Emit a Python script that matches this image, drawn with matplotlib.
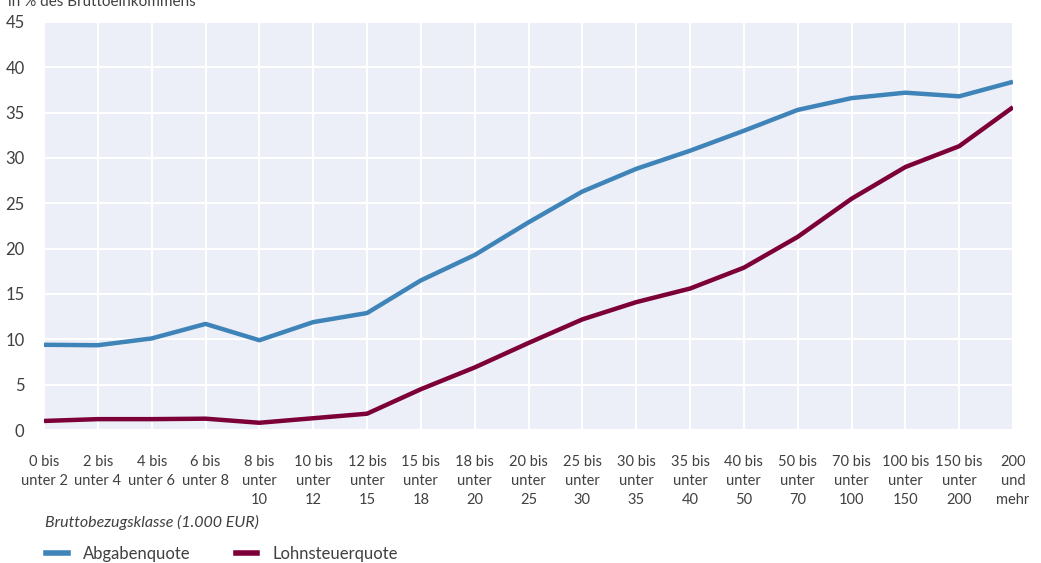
import matplotlib.pyplot as plt
from matplotlib.lines import Line2D

plt.rcParams['font.family'] = ['Lato', 'DejaVu Sans']

# Bruttobezugsklassen (1.000 EUR)
categories = ['0 bis\nunter 2', '2 bis\nunter 4', '4 bis\nunter 6', '6 bis\nunter 8',
              '8 bis\nunter\n10', '10 bis\nunter\n12', '12 bis\nunter\n15', '15 bis\nunter\n18',
              '18 bis\nunter\n20', '20 bis\nunter\n25', '25 bis\nunter\n30', '30 bis\nunter\n35',
              '35 bis\nunter\n40', '40 bis\nunter\n50', '50 bis\nunter\n70', '70 bis\nunter\n100',
              '100 bis\nunter\n150', '150 bis\nunter\n200', '200\nund\nmehr']

abgabenquote = [9.4, 9.35, 10.1, 11.7, 9.9, 11.9, 12.9, 16.5, 19.3, 22.9,
                26.3, 28.8, 30.8, 33.0, 35.3, 36.6, 37.2, 36.8, 38.4]
lohnsteuerquote = [1.0, 1.2, 1.2, 1.25, 0.8, 1.3, 1.8, 4.5, 6.9, 9.6,
                   12.2, 14.1, 15.6, 17.9, 21.3, 25.5, 29.0, 31.3, 35.6]

blue = '#3f84b9'
red = '#7c0037'
text_col = '#404040'

fig = plt.figure(figsize=(10.41, 5.63), dpi=100)
ax = fig.add_axes([0.0423, 0.2362, 0.9308, 0.7248])
ax.set_facecolor('#eceff7')

x = list(range(len(categories)))
ax.plot(x, abgabenquote, color=blue, lw=3.2, solid_capstyle='butt')
ax.plot(x, lohnsteuerquote, color=red, lw=3.2, solid_capstyle='butt')

ax.set_xlim(0, len(categories) - 1)
ax.set_ylim(0, 45)
ax.set_yticks(range(0, 46, 5))
ax.set_xticks(x)
ax.set_xticklabels(categories, fontsize=10.5, color=text_col, linespacing=1.45,
                   va='top')
ax.tick_params(axis='y', labelsize=12, colors=text_col, length=0, pad=14)
ax.tick_params(axis='x', length=0, pad=18)
ax.grid(True, color='white', lw=1.5)
ax.set_axisbelow(True)
for s in ax.spines.values():
    s.set_visible(False)

fig.text(0.008, 0.996, 'in % des Bruttoeinkommens', fontsize=11, color=text_col,
         va='center')
fig.text(0.043, 0.072, 'Bruttobezugsklasse (1.000 EUR)', fontsize=11.5,
         style='italic', color=text_col, va='center')

handles = [Line2D([], [], color=blue, lw=4), Line2D([], [], color=red, lw=4)]
fig.legend(handles, ['Abgabenquote', 'Lohnsteuerquote'], loc='center left',
           bbox_to_anchor=(0.03, 0.016), ncol=2, frameon=False, fontsize=12,
           handlelength=1.3, handletextpad=0.9, columnspacing=2.7,
           labelcolor=text_col)

fig.savefig('out.png', dpi=100)
